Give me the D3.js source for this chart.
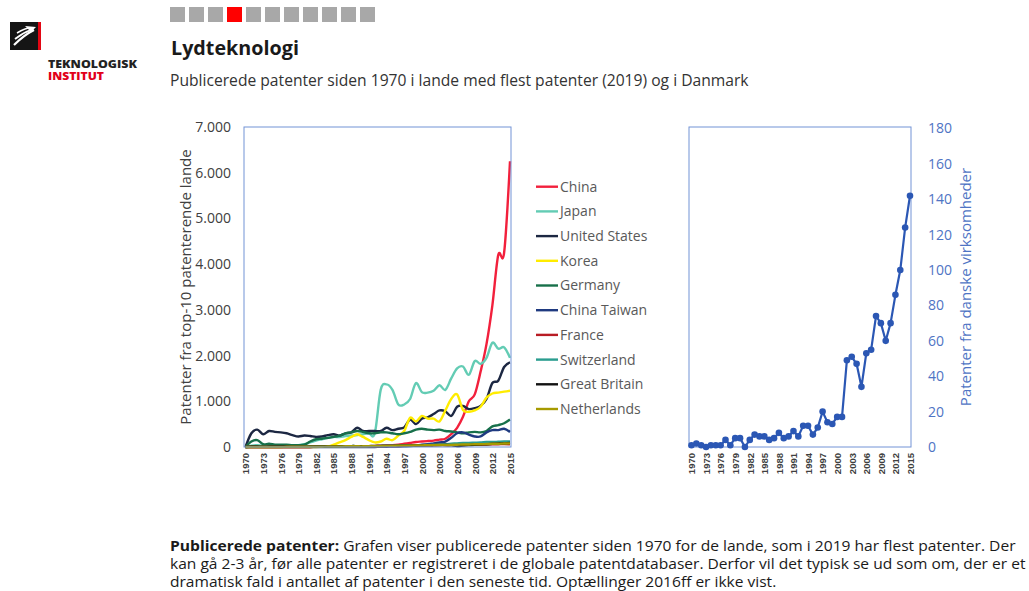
<!DOCTYPE html>
<html>
<head>
<meta charset="utf-8">
<script src="https://cdn.jsdelivr.net/npm/d3@7"></script>
<style>
  html, body { margin: 0; padding: 0; background: #fff; }
  svg { display: block; font-family: "Open Sans", "Noto Sans", sans-serif; }
</style>
</head>
<body>
<svg id="chart" width="1029" height="591"></svg>
<script>
// ---- categories ----
const years = [1970,1971,1972,1973,1974,1975,1976,1977,1978,1979,
               1980,1981,1982,1983,1984,1985,1986,1987,1988,1989,
               1990,1991,1992,1993,1994,1995,1996,1997,1998,1999,
               2000,2001,2002,2003,2004,2005,2006,2007,2008,2009,
               2010,2011,2012,2013,2014,2015];
const xTickYears = [1970,1973,1976,1979,1982,1985,1988,1991,1994,1997,2000,2003,2006,2009,2012,2015];
const leftTicks  = [0,1000,2000,3000,4000,5000,6000,7000];
const rightTicks = [0,20,40,60,80,100,120,140,160,180];

// ---- series: published patents per year, top-10 countries ----
const china = [0,0,0,0,0,0,0,0,0,0, 0,0,5,5,5,10,10,10,15,15,
               20,20,25,30,40,40,50,70,90,110, 120,130,140,160,180,280,420,660,1000,1150,
               1650,2250,3100,4200,4250,6250];
const japan = [0,30,40,30,30,30,30,30,40,40, 60,100,140,170,200,220,220,240,250,260,
               280,300,300,1250,1370,1250,930,930,1050,1400, 1200,1190,1230,1350,1250,1500,1720,1760,1580,1880,
               1820,1950,2280,2150,2180,1950];
const unitedStates = [0,300,380,280,350,330,320,300,260,230, 250,240,220,230,260,280,250,300,320,420,
               350,350,350,350,420,370,400,430,600,500, 620,650,720,800,780,680,880,900,830,850,
               900,1050,1400,1450,1750,1850];
const korea = [0,0,0,0,0,0,0,0,0,0, 0,0,0,5,10,50,100,150,220,280,
               220,150,100,120,180,150,250,350,640,560, 680,620,620,560,800,1050,1150,810,770,800,
               880,1080,1170,1190,1210,1230];
const germany = [0,120,150,60,70,50,50,50,40,40, 50,120,170,180,200,220,250,300,320,350,
               330,300,300,320,320,300,280,300,330,380, 400,380,370,380,350,340,320,300,320,330,
               320,350,450,480,520,600];
const chinaTaiwan = [0,0,0,0,0,0,0,0,0,0, 0,0,0,0,0,0,0,0,0,0,
               0,0,0,5,5,10,10,15,20,30, 50,60,80,100,120,200,300,320,270,230,
               230,320,370,370,400,330];
const france = [0,0,0,0,0,0,0,0,0,0, 0,0,5,5,5,5,10,10,10,15,
               15,15,15,20,20,20,20,25,25,30, 30,30,35,40,40,40,45,45,50,50,
               50,55,60,60,65,60];
const switzerland = [0,5,5,5,5,5,5,5,5,5, 5,5,10,10,10,10,15,15,20,20,
               20,20,25,25,30,30,30,35,35,40, 40,45,50,55,60,70,80,90,90,95,
               100,110,110,115,120,120];
const greatBritain = [0,10,10,5,10,10,10,10,5,5, 5,10,10,10,10,15,15,15,20,20,
               20,20,20,25,25,25,30,30,30,35, 35,40,40,45,45,40,20,30,40,50,
               55,60,70,80,80,90];
const netherlands = [0,0,0,0,0,0,0,5,5,5, 5,5,5,5,10,10,10,15,15,15,
               15,20,20,20,25,25,30,30,30,35, 35,40,40,45,45,45,50,55,55,60,
               60,65,70,70,75,80];

// ---- series: Danish companies ----
const denmark = [1,2,1,0,1,1,1,4,1,5, 5,0,4,7,6,6,4,5,8,5,
                 6,9,6,12,12,7,11,20,14,13, 17,17,49,51,47,34,53,55,74,70,
                 60,70,86,100,124,142];

const seriesNames  = ["China","Japan","United States","Korea","Germany","China Taiwan","France","Switzerland","Great Britain","Netherlands"];
const seriesValues = [china, japan, unitedStates, korea, germany, chinaTaiwan, france, switzerland, greatBritain, netherlands];
const seriesColors = ["#f2203c","#63ccb4","#1c2742","#ffec00","#17704a","#1f3a80","#b81c24","#2a9d8f","#121212","#a69a00"];

const svg = d3.select("#chart");
svg.append("rect").attr("width",1029).attr("height",591).attr("fill","#fff");

// Scale a text element horizontally so it spans a given width
function fitWidth(sel, x, y, w) {
  const n = sel.node().getComputedTextLength();
  sel.attr("transform", `translate(${x},${y}) scale(${w / n},1)`);
}

// ---- header: logo ----
const logo = svg.append("g");
logo.append("rect").attr("x",10).attr("y",22).attr("width",28).attr("height",28).attr("fill","#151515");
logo.append("rect").attr("x",38).attr("y",22).attr("width",3).attr("height",28).attr("fill","#e30613");
logo.append("path").attr("d","M14 45 C20 39 26 34 34 30").attr("stroke","#fff").attr("stroke-width",2.2).attr("fill","none");
logo.append("path").attr("d","M15 39 C20 35 25 32 31 30").attr("stroke","#fff").attr("stroke-width",1.8).attr("fill","none");
logo.append("path").attr("d","M17 33 C22 30 26 28 30 28").attr("stroke","#fff").attr("stroke-width",1.5).attr("fill","none");
logo.append("path").attr("d","M25 26 L36 27 L31 32 Z").attr("fill","#fff");
const t1 = logo.append("text").attr("font-size",10).attr("font-weight",800).attr("fill","#222").text("TEKNOLOGISK");
fitWidth(t1, 48, 68, 89);
const t2 = logo.append("text").attr("font-size",10).attr("font-weight",800).attr("fill","#e2001a").text("INSTITUT");
fitWidth(t2, 48, 80, 56);

// ---- header: progress squares ----
svg.append("g").selectAll("rect").data(d3.range(11)).join("rect")
  .attr("x", i => 170 + i * 19).attr("y", 7).attr("width", 15).attr("height", 15)
  .attr("fill", i => i === 3 ? "#ff0000" : "#a8a8a8");

// ---- title and subtitle ----
const title = svg.append("text").attr("font-size",20).attr("font-weight",700).attr("fill","#1a1a1a").text("Lydteknologi");
fitWidth(title, 171, 55, 128);
const sub = svg.append("text").attr("font-size",16).attr("fill","#333").text("Publicerede patenter siden 1970 i lande med flest patenter (2019) og i Danmark");
fitWidth(sub, 170, 86, 579);

// ---- left chart: top-10 countries ----
const frameColor = "#7393d6";
const L = {x0:244, x1:511, y0:127, y1:447};
const xL = d3.scaleLinear().domain([1970,2015]).range([245.5,510]);
const yL = d3.scaleLinear().domain([0,7000]).range([447,127]);
const fmt = d3.formatLocale({decimal:",", thousands:".", grouping:[3], currency:["","kr"]}).format(",");

const yearLabelStyle = g => g.selectAll("text")
  .attr("font-size",9.5).attr("font-weight",700).attr("fill","#404040")
  .attr("font-family","Liberation Sans Narrow, Liberation Sans, Arial")
  .attr("text-anchor","end").attr("transform","rotate(-90)").attr("x",-6).attr("y",0).attr("dy","0.35em");

const gl = svg.append("g");
const lineL = d3.line().x((d,i) => xL(years[i])).y(d => yL(d)).curve(d3.curveCatmullRom.alpha(0));
gl.selectAll("path.series").data(seriesValues).join("path")
  .attr("class","series")
  .attr("d", d => lineL(d))
  .attr("fill","none")
  .attr("stroke", (d,i) => seriesColors[i])
  .attr("stroke-width", 2.4)
  .attr("stroke-linejoin","round");

gl.append("rect").attr("x",L.x0).attr("y",L.y0).attr("width",L.x1-L.x0).attr("height",L.y1-L.y0)
  .attr("fill","none").attr("stroke",frameColor).attr("stroke-width",1);

const yAxisL = d3.axisLeft(yL).tickValues(leftTicks).tickFormat(fmt).tickSize(0).tickPadding(0);
gl.append("g").attr("transform","translate(231,0)").call(yAxisL)
  .call(g => g.select(".domain").remove())
  .call(g => g.selectAll("text").attr("font-size",14).attr("fill","#404040").attr("font-family","Open Sans"));

const xAxisL = d3.axisBottom(xL).tickValues(xTickYears).tickFormat(d3.format("d")).tickSize(0);
gl.append("g").attr("transform","translate(0,447)").call(xAxisL)
  .call(g => g.select(".domain").remove())
  .call(yearLabelStyle);

gl.append("text").attr("transform","translate(191,287) rotate(-90)").attr("text-anchor","middle")
  .attr("font-size",15).attr("fill","#404040").text("Patenter fra top-10 patenterende lande");

// legend
const leg = svg.append("g").selectAll("g").data(seriesNames).join("g")
  .attr("transform", (d,i) => `translate(0,${186.7 + i * 24.7})`);
leg.append("line").attr("x1",536).attr("x2",558).attr("stroke",(d,i) => seriesColors[i]).attr("stroke-width",2.4);
leg.append("text").attr("x",560).attr("dy","0.35em").attr("font-size",14).attr("fill","#595959").text(d => d);

// ---- right chart: Danish companies ----
const R = {x0:689, x1:911, y0:127, y1:447};
const xR = d3.scaleLinear().domain([1970,2015]).range([691.5,910]);
const yR = d3.scaleLinear().domain([0,180]).range([447,128.5]);
const blue = "#2b57b4";
const gr = svg.append("g");
gr.append("rect").attr("x",R.x0).attr("y",R.y0).attr("width",R.x1-R.x0).attr("height",R.y1-R.y0)
  .attr("fill","none").attr("stroke",frameColor).attr("stroke-width",1);
gr.append("path").attr("d", d3.line().x((d,i) => xR(years[i])).y(d => yR(d))(denmark))
  .attr("fill","none").attr("stroke",blue).attr("stroke-width",2.2).attr("stroke-linejoin","round");
gr.selectAll("circle").data(denmark).join("circle")
  .attr("cx",(d,i) => xR(years[i])).attr("cy", d => yR(d)).attr("r",3.3).attr("fill",blue);

const yAxisR = d3.axisRight(yR).tickValues(rightTicks).tickSize(0).tickPadding(0);
gr.append("g").attr("transform","translate(928,0)").call(yAxisR)
  .call(g => g.select(".domain").remove())
  .call(g => g.selectAll("text").attr("font-size",14).attr("fill","#4f74c4").attr("font-family","Open Sans"));

const xAxisR = d3.axisBottom(xR).tickValues(xTickYears).tickFormat(d3.format("d")).tickSize(0);
gr.append("g").attr("transform","translate(0,447)").call(xAxisR)
  .call(g => g.select(".domain").remove())
  .call(yearLabelStyle);

gr.append("text").attr("transform","translate(971,287) rotate(-90)").attr("text-anchor","middle")
  .attr("font-size",15).attr("fill","#4f74c4").text("Patenter fra danske virksomheder");

// ---- explanatory paragraph ----
const para = [
  {bold:"Publicerede patenter:", rest:" Grafen viser publicerede patenter siden 1970 for de lande, som i 2019 har flest patenter. Der", y:551, w:846},
  {bold:"", rest:"kan gå 2-3 år, før alle patenter er registreret i de globale patentdatabaser. Derfor vil det typisk se ud som om, der er et", y:569, w:856},
  {bold:"", rest:"dramatisk fald i antallet af patenter i den seneste tid. Optællinger 2016ff er ikke vist.", y:587, w:607}
];
para.forEach(p => {
  const t = svg.append("text").attr("font-size",15).attr("fill","#1a1a1a");
  if (p.bold) t.append("tspan").attr("font-weight",700).text(p.bold);
  t.append("tspan").text(p.rest);
  fitWidth(t, 170, p.y, p.w);
});
</script>
</body>
</html>
